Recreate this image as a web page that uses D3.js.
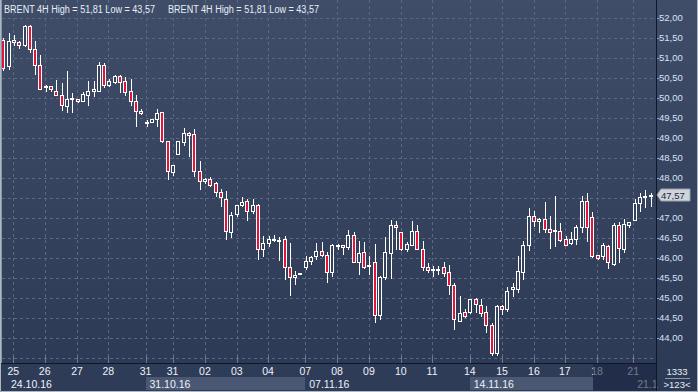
<!DOCTYPE html>
<html>
<head>
<meta charset="utf-8">
<script src="https://cdn.jsdelivr.net/npm/d3@7"></script>
<style>
  html, body { margin: 0; padding: 0; background: #2d3a56; }
  svg { display: block; font-family: "Liberation Sans", Arial, sans-serif; }
</style>
</head>
<body>
<div id="chart"></div>
<script>
// BRENT 4H candles, 24.10.16 - 21.11.16
const opens = [51.44,50.78,51.40,51.38,51.33,51.79,51.21,50.81,50.27,50.28,50.18,50.08,49.80,49.97,49.96,49.93,50.08,50.18,50.18,50.81,
  50.33,50.38,50.54,50.42,50.17,49.91,49.68,49.38,49.40,49.48,49.63,48.91,48.13,48.60,48.88,49.12,49.09,48.18,47.93,47.98,
  47.86,47.63,47.48,46.65,47.09,47.31,47.41,47.18,47.33,46.21,46.36,46.44,46.44,46.46,45.76,45.51,45.59,45.76,45.93,46.03,
  46.16,46.06,45.65,46.29,46.31,46.26,46.58,45.90,46.13,45.78,45.88,44.56,45.51,46.11,46.81,46.63,46.21,46.33,46.67,46.21,
  45.76,45.70,45.69,45.76,45.63,45.31,44.43,44.63,44.63,44.96,44.81,44.63,44.33,43.61,44.78,44.73,45.22,45.23,45.65,46.31,
  47.04,46.93,46.97,46.73,46.66,46.66,46.48,46.36,46.48,46.76,47.41,47.01,46.06,46.03,46.28,45.85,46.82,46.23,46.82,46.95,
  47.36,47.55,47.56];
const highs = [51.50,51.61,51.58,51.42,51.81,51.81,51.42,51.07,50.33,50.30,50.44,50.36,50.67,50.11,49.98,50.13,50.43,50.43,50.89,50.86,
  50.46,50.57,50.57,50.51,50.47,50.07,49.72,49.44,49.48,49.72,49.65,48.93,48.33,48.93,49.25,49.13,49.23,48.43,48.00,48.01,
  47.90,47.71,47.66,47.15,47.33,47.51,47.46,47.46,47.34,46.54,46.54,46.57,46.51,46.54,46.36,45.66,45.61,46.04,46.04,46.37,
  46.39,46.15,46.34,46.35,46.31,46.69,46.65,46.42,46.38,46.03,46.34,45.53,46.51,46.94,46.93,46.63,46.40,46.92,46.81,46.43,
  45.86,45.78,45.78,45.89,45.82,45.36,45.03,44.71,44.98,45.00,44.98,44.80,44.36,44.82,44.83,45.27,45.36,46.04,46.43,47.24,
  47.18,46.99,47.38,47.04,47.54,46.86,46.54,46.63,46.82,47.54,47.61,47.14,46.08,46.37,46.33,46.86,46.89,46.98,46.90,47.48,
  47.61,47.69,47.61];
const lows = [50.70,50.71,51.33,51.25,51.29,51.15,50.60,50.22,50.18,50.18,50.07,49.70,49.65,49.65,49.88,49.92,49.82,50.04,50.17,50.27,
  50.28,50.37,50.15,50.07,49.82,49.30,49.60,49.28,49.38,49.28,48.89,47.98,48.07,48.59,48.82,48.53,48.05,47.73,47.86,47.80,
  47.53,47.29,46.47,46.51,47.05,47.28,46.94,47.11,45.98,46.04,46.28,46.43,45.94,45.48,45.07,45.34,45.59,45.73,45.84,45.98,
  46.03,45.38,45.53,46.23,46.10,46.23,45.88,45.59,45.75,45.59,44.40,44.47,45.48,45.50,46.21,46.19,46.17,46.32,46.21,45.69,
  45.65,45.55,45.59,45.54,45.09,44.21,44.43,44.51,44.61,44.65,44.53,44.15,43.58,43.57,44.59,44.68,45.04,45.13,45.48,46.19,
  46.78,46.63,46.65,46.25,46.29,46.43,46.31,46.34,46.34,46.65,46.43,46.01,45.98,45.98,45.75,45.83,45.90,46.13,46.76,46.95,
  47.18,47.26,47.29];
const closes = [50.75,51.42,51.44,51.33,51.79,51.21,50.83,50.23,50.28,50.22,50.08,49.83,49.98,49.99,49.91,50.09,50.17,50.22,50.81,50.33,
  50.42,50.54,50.38,50.13,49.93,49.68,49.61,49.40,49.46,49.61,48.91,48.17,48.32,48.92,49.11,49.07,48.18,47.93,47.98,47.83,
  47.63,47.51,46.67,47.08,47.31,47.38,47.18,47.33,46.21,46.36,46.46,46.46,46.45,45.76,45.51,45.57,45.61,45.91,46.01,46.16,
  46.06,45.65,46.33,46.31,46.26,46.58,45.90,46.11,45.76,45.81,44.56,45.51,46.13,46.81,46.76,46.21,46.34,46.68,46.23,45.76,
  45.69,45.73,45.73,45.61,45.31,44.46,44.61,44.54,44.96,44.84,44.61,44.33,43.61,44.78,44.73,45.18,45.26,45.67,46.32,47.04,
  46.93,46.98,46.73,46.65,46.69,46.45,46.33,46.46,46.76,47.43,46.76,46.03,46.00,46.31,45.88,46.82,46.25,46.84,46.88,47.37,
  47.51,47.55,47.57];

// day grid lines (bar index) and their labels
const dayTicks  = [1.9, 7.8, 13.9, 19.8, 26.8, 31.9, 38.0, 44.0, 49.9, 56.9, 62.9, 68.9, 74.9, 80.8, 87.9, 94.0, 100.0, 105.8, 111.9, 118.7];
const dayLabels = ["25","26","27","28","31","31","02","03","04","07","08","09","10","11","14","15","16","17","18","21"];
// week sections on the lower axis row
const weekStarts = [0.7, 26.8, 56.9, 87.9, 118.7];
const weekLabels = ["24.10.16","31.10.16","07.11.16","14.11.16","21.1"];
const priceTicks = [44, 44.5, 45, 45.5, 46, 46.5, 47, 48, 48.5, 49, 49.5, 50, 50.5, 51, 51.5, 52];
const lastPrice = 47.57;
const title = "BRENT 4H High = 51,81 Low = 43,57";

const candles = opens.map((o, i) => ({ i: i, o: o, h: highs[i], l: lows[i], c: closes[i] }));

const W = 698, H = 392;
const plotRight = 656, plotBottom = 363;

const svg = d3.select("#chart").append("svg")
  .attr("width", W)
  .attr("height", H);

const defs = svg.append("defs");
const grad = defs.append("linearGradient").attr("id", "bg")
  .attr("x1", 0).attr("y1", 0).attr("x2", 0).attr("y2", 1);
grad.append("stop").attr("offset", "0%").attr("stop-color", "#3f4d68");
grad.append("stop").attr("offset", "100%").attr("stop-color", "#2c3955");

svg.append("rect").attr("width", W).attr("height", H).attr("fill", "url(#bg)");

// scales
const x = d3.scaleLinear().domain([0, candles.length - 1]).range([3.3, 650.7]);
const y = d3.scaleLinear().domain([44, 52]).range([337.7, 17.7]);

const fmt = v => d3.format(".2f")(v).replace(".", ",");

// grid
const grid = svg.append("g").attr("class", "grid")
  .attr("stroke", "#5a6882").attr("stroke-width", 1).attr("stroke-dasharray", "3,3");
grid.selectAll("line.h").data(d3.range(43.5, 52.51, 0.5)).join("line")
  .attr("class", "h")
  .attr("x1", 2).attr("x2", plotRight)
  .attr("y1", d => Math.round(y(d)) + 0.5).attr("y2", d => Math.round(y(d)) + 0.5);
grid.selectAll("line.v").data(dayTicks).join("line")
  .attr("class", "v")
  .attr("x1", d => Math.round(x(d)) + 0.5).attr("x2", d => Math.round(x(d)) + 0.5)
  .attr("y1", 0).attr("y2", plotBottom);

// candles
const cg = svg.append("g").attr("class", "candles");
const bar = cg.selectAll("g").data(candles).join("g")
  .attr("transform", d => "translate(" + Math.round(x(d.i)) + ",0)");

bar.append("line")
  .attr("x1", 0.5).attr("x2", 0.5)
  .attr("y1", d => Math.round(y(d.h)))
  .attr("y2", d => Math.round(y(d.l)) + 1)
  .attr("stroke", "#ffffff");

bar.append("rect")
  .attr("x", -1.5)
  .attr("width", 3)
  .attr("y", d => Math.round(y(Math.max(d.o, d.c))) + 0.5)
  .attr("height", d => Math.max(1, Math.round(y(Math.min(d.o, d.c))) - Math.round(y(Math.max(d.o, d.c)))))
  .attr("fill", d => d.c < d.o ? "#e21439" : "#34425e")
  .attr("stroke", "#ffffff")
  .attr("stroke-width", 1);

// left edge of plot
svg.append("line").attr("x1", 1).attr("x2", 1).attr("y1", 0).attr("y2", plotBottom)
  .attr("stroke", "#8a96aa").attr("stroke-width", 2);

// title
svg.selectAll("text.title").data([4, 168]).join("text")
  .attr("class", "title")
  .attr("x", d => d).attr("y", 13)
  .attr("font-size", "10px")
  .attr("fill", "#e8eef8")
  .attr("textLength", 151).attr("lengthAdjust", "spacingAndGlyphs")
  .text(title);

// bottom axis panel
svg.append("rect").attr("x", 0).attr("y", plotBottom).attr("width", plotRight).attr("height", H - plotBottom)
  .attr("fill", "#2f3c58");
svg.append("line").attr("x1", 0).attr("x2", plotRight).attr("y1", plotBottom + 0.5).attr("y2", plotBottom + 0.5)
  .attr("stroke", "#0f1626");

// alternating week boxes
const weekBoxes = [[weekStarts[1], weekStarts[2]], [weekStarts[3], 111.1]];
svg.selectAll("rect.week").data(weekBoxes).join("rect")
  .attr("class", "week")
  .attr("x", d => Math.round(x(d[0])))
  .attr("width", d => Math.round(x(d[1])) - Math.round(x(d[0])))
  .attr("y", 377).attr("height", 13)
  .attr("fill", "#4a5873");

// day ticks on axis
const ax = svg.append("g").attr("class", "x-axis");
ax.selectAll("line").data(dayTicks).join("line")
  .attr("x1", d => Math.round(x(d)) + 0.5).attr("x2", d => Math.round(x(d)) + 0.5)
  .attr("y1", 356).attr("y2", plotBottom)
  .attr("stroke", "#6c7a94");
ax.selectAll("text.day").data(dayTicks).join("text")
  .attr("class", "day")
  .attr("x", d => x(d)).attr("y", 375)
  .attr("text-anchor", "middle")
  .attr("font-size", "10.5px")
  .attr("fill", "#eef2f8")
  .text((d, i) => dayLabels[i]);
ax.selectAll("text.week").data(weekStarts).join("text")
  .attr("class", "week")
  .attr("x", d => x(d) + 4).attr("y", 387.5)
  .attr("font-size", "10.5px")
  .attr("fill", "#eef2f8")
  .text((d, i) => weekLabels[i]);

// dimmed tail of the time axis
svg.append("rect")
  .attr("x", Math.round(x(111.1))).attr("y", plotBottom + 1)
  .attr("width", plotRight - Math.round(x(111.1))).attr("height", H - plotBottom - 1)
  .attr("fill", "#1b2540").attr("opacity", 0.6);

// right price axis
svg.append("line").attr("x1", plotRight + 0.5).attr("x2", plotRight + 0.5).attr("y1", 0).attr("y2", H)
  .attr("stroke", "#0f1626");
const ry = svg.append("g").attr("class", "y-axis");
ry.selectAll("line").data(priceTicks).join("line")
  .attr("x1", plotRight + 1).attr("x2", plotRight + 3)
  .attr("y1", d => Math.round(y(d)) + 0.5).attr("y2", d => Math.round(y(d)) + 0.5)
  .attr("stroke", "#7fa8e0");
ry.selectAll("text").data(priceTicks).join("text")
  .attr("x", 659).attr("y", d => y(d) + 3.5)
  .attr("font-size", "9.5px")
  .attr("fill", "#d6e2f6")
  .text(d => fmt(d));

// last price marker
const ly = Math.round(y(lastPrice));
svg.append("path")
  .attr("d", `M${plotRight + 1},${ly} L${plotRight + 5},${ly - 6} L690,${ly - 6} L690,${ly + 6} L${plotRight + 5},${ly + 6} Z`)
  .attr("fill", "#cfd3da").attr("stroke", "#9aa2b0");
svg.append("text")
  .attr("x", 661).attr("y", ly + 3.5)
  .attr("font-size", "9.5px")
  .attr("fill", "#1e2a44")
  .text(fmt(lastPrice));

// bottom right counters
svg.append("line").attr("x1", 665).attr("x2", 690).attr("y1", 378.5).attr("y2", 378.5).attr("stroke", "#8b97ad");
svg.append("text").attr("x", 677).attr("y", 375).attr("text-anchor", "middle")
  .attr("font-size", "9.5px").attr("fill", "#e6ecf5").text("1333");
svg.append("text").attr("x", 677).attr("y", 388).attr("text-anchor", "middle")
  .attr("font-size", "9.5px").attr("fill", "#e6ecf5").text(">" + candles.length + "<");

// outer frame: left, right and bottom edges
svg.append("path")
  .attr("d", `M0.5,0 V${H - 0.5} H${W - 0.5} V0`)
  .attr("fill", "none").attr("stroke", "#aeb6c2");
</script>
</body>
</html>
